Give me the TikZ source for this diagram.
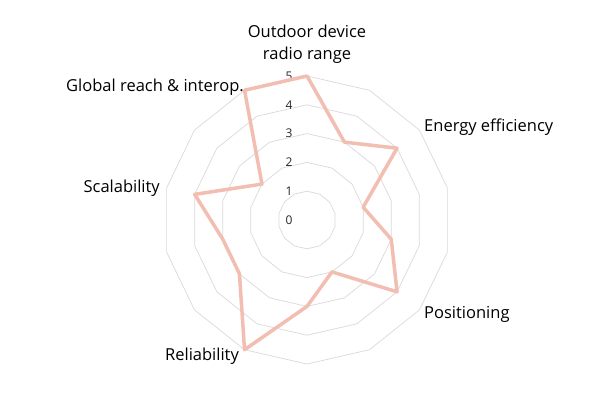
\documentclass[tikz,border=0pt]{standalone}
\usepackage{fontspec}
\setmainfont{Open Sans}
\usetikzlibrary{calc}
\definecolor{gridc}{RGB}{218,218,218}
\definecolor{serc}{RGB}{243,190,178}
\begin{document}
\begin{tikzpicture}[x=1pt,y=1pt,
  gridline/.style={draw=gridc,line width=0.7pt},
  series/.style={draw=serc,line width=3.5pt,line join=round},
  lab/.style={font=\fontsize{16.5}{22}\selectfont,inner sep=1pt},
  tick/.style={font=\fontsize{12}{13}\selectfont,text=black!85}]
\fill[white] (0,0) rectangle (600,-415);
\useasboundingbox (0,0) rectangle (600,-415);
\coordinate (c) at (307,-220);
\def\stp{28.8}
\foreach \r in {1,...,5}{
  \draw[gridline] ($(c)+(90:\r*\stp)$) \foreach \k in {1,...,13}{ -- ($(c)+(90-\k*360/14:\r*\stp)$)} -- cycle;
}
\foreach \v in {0,1,2,3,4,5}{
  \node[tick] (t\v) at ($(c)+(-18,\v*\stp)$) {\v};
}
\foreach \v [count=\k from 0] in {5,3,4,2,3,4,2,3,5,3,3,4,2,5}{
  \coordinate (p\k) at ($(c)+(90-\k*360/14:\v*\stp)$);
}
\draw[series] (p0) \foreach \k in {1,...,13}{ -- (p\k)} -- cycle;
\node[lab,align=center] (l1) at (307,-44) {Outdoor device\\radio range};
\node[lab,anchor=west] (l2) at (423,-127) {Energy efficiency};
\node[lab,anchor=west] (l3) at (423,-314) {Positioning};
\node[lab] (l4) at (202,-356) {Reliability};
\node[lab,anchor=east] (l5) at (161,-188) {Scalability};
\node[lab,anchor=east] (l6) at (245,-87) {Global reach \& interop.};
\end{tikzpicture}
\end{document}
